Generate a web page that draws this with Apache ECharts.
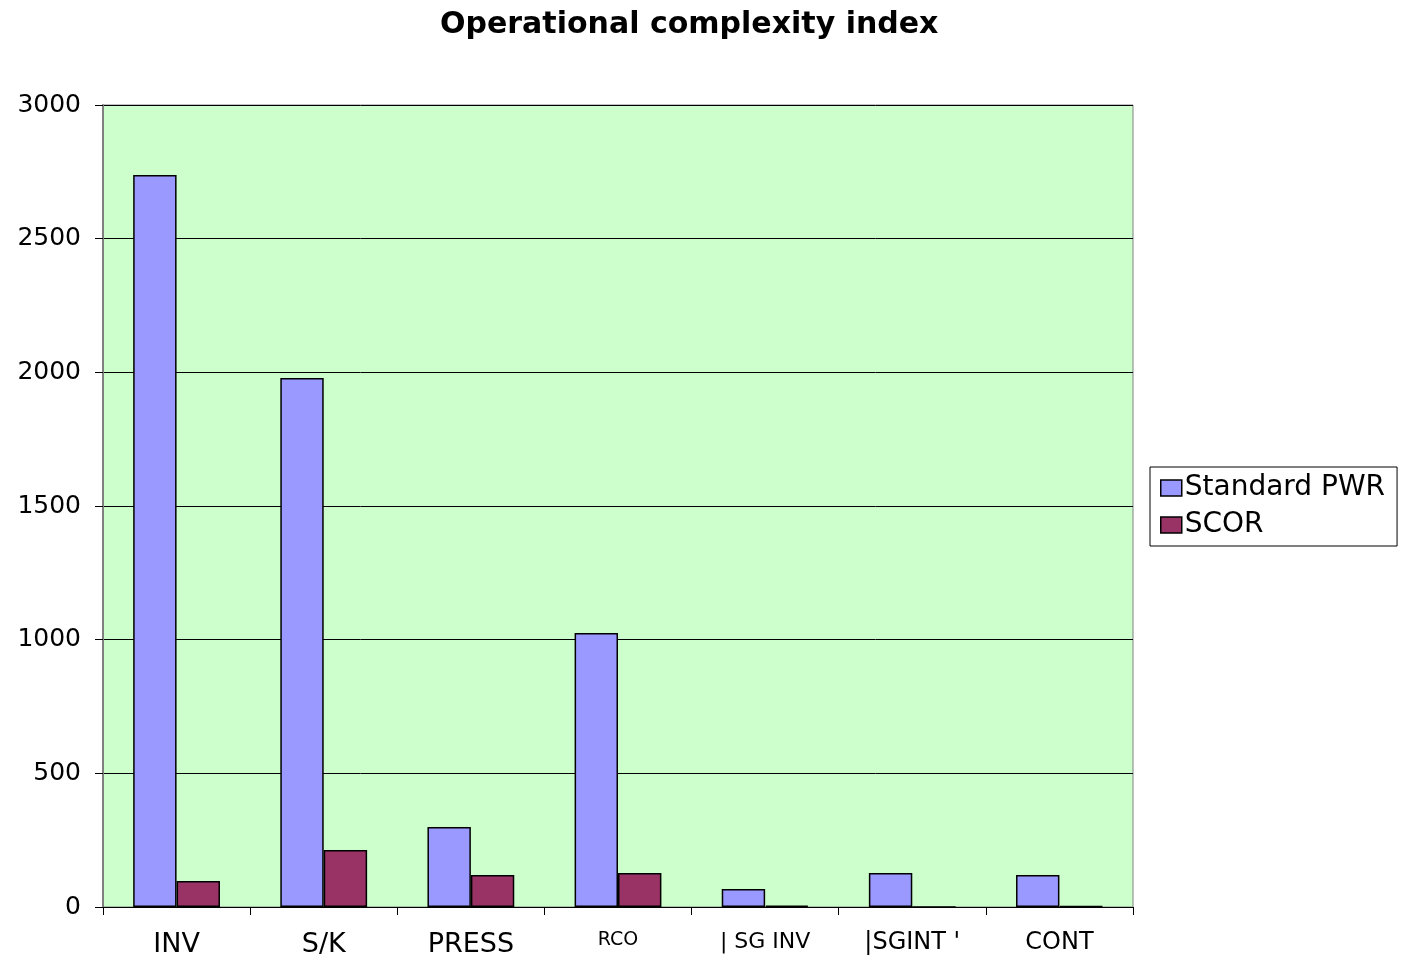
<!DOCTYPE html>
<html>
<head>
<meta charset="utf-8">
<script src="https://cdn.jsdelivr.net/npm/echarts@6/dist/echarts.min.js"></script>
<style>html,body{margin:0;padding:0;background:#fff;}#c{width:1401px;height:959px;}</style>
</head>
<body>
<div id="c"></div>
<script>
var categories = ['INV', 'S/K', 'PRESS', 'RCO', '| SG INV', "|SGINT '", 'CONT'];
var standardPWR = [2738, 1979, 299, 1025, 67, 127, 120];
var scor = [97, 213, 120, 127, 5, 0, 3];
var yTicks = [0, 500, 1000, 1500, 2000, 2500, 3000];

var labelSize = {'INV': 27, 'S/K': 27, 'PRESS': 27, 'RCO': 19, '| SG INV': 22, "|SGINT '": 24, 'CONT': 24};
var FONT = 'DejaVu Sans';

var chart = echarts.init(document.getElementById('c'));
chart.setOption({
  animation: false,
  backgroundColor: '#ffffff',
  title: {
    text: 'Operational complexity index',
    left: 435,
    top: 5,
    textStyle: {fontFamily: FONT, fontSize: 30, fontWeight: 'bold', color: '#000'}
  },
  legend: {
    orient: 'vertical',
    left: 1150,
    top: 467,
    padding: [7, 12, 7, 10],
    itemGap: 9,
    itemWidth: 21,
    itemHeight: 16,
    icon: 'rect',
    borderColor: '#000',
    borderWidth: 1,
    textStyle: {fontFamily: FONT, fontSize: 28, color: '#000', padding: [0, 0, 0, -2]},
    data: [
      {name: 'Standard PWR', itemStyle: {borderColor: '#000', borderWidth: 1.5}},
      {name: 'SCOR', itemStyle: {borderColor: '#000', borderWidth: 1.5}}
    ]
  },
  grid: {
    left: 103, right: 268, top: 105, bottom: 52,
    outerBoundsMode: 'none',
    containLabel: false,
    show: true, backgroundColor: '#CCFFCC', borderColor: '#808080', borderWidth: 1
  },
  xAxis: {
    type: 'category',
    data: categories.map(function (c) { return {value: c, textStyle: {fontSize: labelSize[c]}}; }),
    axisLine: {show: true, lineStyle: {color: '#000', width: 1}},
    axisTick: {show: true, length: 8, alignWithLabel: false, lineStyle: {color: '#000'}},
    axisLabel: {fontFamily: FONT, color: '#000', margin: 24, verticalAlign: 'top', interval: 0},
    splitLine: {show: false}
  },
  yAxis: {
    type: 'value',
    min: yTicks[0],
    max: yTicks[yTicks.length - 1],
    interval: 500,
    axisLine: {show: true, lineStyle: {color: '#808080', width: 2}},
    axisTick: {show: true, length: 8, inside: false, lineStyle: {color: '#000'}},
    axisLabel: {fontFamily: FONT, fontSize: 25, color: '#000', margin: 22, formatter: function (v) { return String(v); }},
    splitLine: {show: true, lineStyle: {color: '#000', width: 1}}
  },
  series: [
    {
      name: 'Standard PWR', type: 'bar', data: standardPWR,
      barGap: '0%', barCategoryGap: '41%',
      itemStyle: {color: '#9999FF', borderColor: '#000', borderWidth: 1.5}
    },
    {
      name: 'SCOR', type: 'bar', data: scor,
      barGap: '0%', barCategoryGap: '41%',
      itemStyle: {color: '#993366', borderColor: '#000', borderWidth: 1.5}
    }
  ]
});
</script>
</body>
</html>
